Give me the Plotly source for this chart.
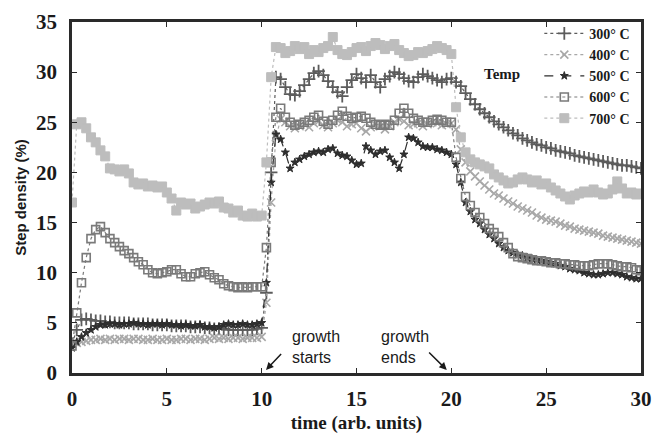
import numpy as np
import plotly.graph_objects as go

# time grid (arb. units), sampled every 0.25
TIME = np.linspace(0, 30, 121)

TEMPS = ["300° C", "400° C", "500° C", "600° C", "700° C"]

S300 = [2.9, 4.3, 5.3, 5.4, 5.3, 5.2, 5.2, 5.1, 5.1, 5.0, 5.0, 5.0,
        5.0, 4.9, 4.9, 4.9, 4.9, 4.8, 4.8, 4.8, 4.8, 4.7, 4.7, 4.7,
        4.7, 4.6, 4.6, 4.6, 4.5, 4.5, 4.4, 4.4, 4.4, 4.3, 4.3, 4.3,
        4.3, 4.3, 4.3, 4.4, 4.5, 8.0, 20.0, 29.5, 29.3, 28.5, 27.8, 27.7,
        28.1, 28.7, 29.3, 29.9, 30.1, 29.7, 29.1, 28.5, 28.0, 27.6, 28.5, 29.2,
        29.8, 29.4, 29.0, 29.7, 29.0, 28.5, 29.3, 29.6, 30.0, 29.8, 29.4, 29.1,
        29.0, 29.5, 29.8, 29.6, 29.4, 29.2, 29.0, 29.3, 29.4, 29.0, 28.6, 27.9,
        27.3, 26.8, 26.3, 25.9, 25.5, 25.1, 24.8, 24.5, 24.2, 23.9, 23.7, 23.4,
        23.2, 23.0, 22.8, 22.7, 22.5, 22.4, 22.2, 22.1, 22.0, 21.9, 21.7, 21.6,
        21.5, 21.4, 21.3, 21.2, 21.1, 21.0, 20.9, 20.8, 20.7, 20.7, 20.6, 20.5,
        20.4]

S400 = [2.9, 3.0, 3.1, 3.2, 3.3, 3.3, 3.4, 3.3, 3.4, 3.3, 3.4, 3.4,
        3.3, 3.4, 3.4, 3.3, 3.3, 3.4, 3.3, 3.3, 3.4, 3.3, 3.3, 3.4,
        3.4, 3.3, 3.4, 3.4, 3.3, 3.4, 3.5, 3.4, 3.5, 3.4, 3.5, 3.5,
        3.4, 3.5, 3.5, 3.5, 3.6, 7.0, 17.0, 23.5, 25.3, 25.0, 24.6, 24.4,
        24.6, 24.8, 24.5, 24.9, 25.1, 24.7, 24.5, 24.9, 25.2, 25.0, 24.6, 24.8,
        24.9, 24.4, 24.1, 24.5, 24.8, 24.6, 24.3, 24.6, 25.0, 25.3, 25.1, 24.7,
        24.8, 24.9, 24.6, 24.8, 25.0, 24.9, 24.7, 24.8, 24.9, 24.3, 22.3, 21.0,
        20.1, 19.6, 19.1, 18.7, 18.3, 17.9, 17.7, 17.4, 17.1, 16.9, 16.6, 16.4,
        16.2, 16.0, 15.7, 15.5, 15.3, 15.2, 15.1, 14.9, 14.7, 14.6, 14.4, 14.3,
        14.2, 14.1, 14.0, 13.9, 13.7, 13.6, 13.5, 13.4, 13.3, 13.2, 13.1, 13.0,
        12.9]

S500 = [2.5, 3.1, 3.6, 4.0, 4.3, 4.6, 4.8, 4.8, 4.9, 4.9, 4.8, 4.9,
        4.9, 5.0, 4.9, 4.9, 4.8, 4.9, 4.9, 4.8, 4.9, 4.8, 4.8, 4.7,
        4.8, 4.7, 4.7, 4.8, 4.6, 4.6, 4.5, 4.6, 4.8, 4.9, 4.8, 4.8,
        4.9, 4.8, 4.8, 4.9, 5.0, 9.0, 19.0, 23.8, 23.3, 22.0, 20.4, 21.0,
        21.3, 21.6, 21.8, 22.0, 22.1, 22.0, 22.3, 22.4, 21.9, 21.7, 21.6, 21.2,
        20.8, 20.9, 22.6, 22.2, 21.8, 22.1, 22.2, 21.5, 21.0, 20.4, 21.8, 23.5,
        23.4, 23.0, 22.6, 22.5, 22.5, 22.3, 22.2, 22.0, 21.8, 20.8, 19.0, 17.0,
        16.1, 15.3, 14.9, 14.3, 13.8, 13.4, 12.9, 12.5, 12.2, 12.0, 11.8, 11.7,
        11.5, 11.4, 11.3, 11.2, 11.1, 11.0, 10.9, 10.7, 10.6, 10.4, 10.3, 10.2,
        10.0, 9.9, 9.8, 9.8, 9.9, 10.0, 10.0, 9.9, 9.8, 9.6, 9.5, 9.4,
        9.4]

S600 = [2.7, 6.0, 9.0, 11.5, 13.4, 14.3, 14.6, 14.0, 13.4, 13.0, 12.6, 12.2,
        11.9, 11.5, 11.1, 10.8, 10.3, 10.0, 9.9, 10.0, 10.1, 10.3, 10.3, 9.9,
        9.6, 9.6, 9.9, 10.0, 10.1, 9.8, 9.5, 9.3, 8.9, 8.7, 8.6, 8.5,
        8.6, 8.5, 8.6, 8.6, 8.6, 12.5, 21.0, 25.5, 26.4, 25.5, 25.0, 24.7,
        24.8, 25.0, 25.2, 25.5, 25.7, 25.1, 24.8, 25.2, 25.7, 26.1, 25.6, 25.4,
        25.5, 25.6, 25.4, 25.0, 24.8, 24.7, 24.8, 24.7, 25.2, 25.9, 26.4, 25.9,
        25.4, 25.2, 25.0, 25.0, 25.2, 25.3, 25.2, 25.0, 25.0, 21.5, 19.4, 17.6,
        16.7, 16.0, 15.5, 14.9, 14.4, 14.0, 13.6, 13.0, 12.5, 11.9, 11.6, 11.5,
        11.4, 11.3, 11.2, 11.2, 11.1, 11.0, 11.0, 10.9, 10.9, 10.8, 10.8, 10.7,
        10.7, 10.7, 10.8, 10.9, 10.9, 10.9, 10.8, 10.7, 10.6, 10.6, 10.5, 10.3,
        10.2]

S700 = [17.0, 24.8, 25.0, 24.4, 23.5, 23.0, 22.2, 21.6, 20.4, 20.3, 20.1, 20.3,
        19.9, 19.0, 18.8, 18.9, 18.6, 18.7, 18.5, 18.6, 18.0, 17.4, 16.2, 17.0,
        16.8, 16.9, 16.4, 16.6, 16.8, 17.0, 16.9, 17.1, 16.5, 16.4, 16.0, 16.2,
        15.7, 15.6, 15.9, 15.6, 15.7, 21.0, 29.5, 32.5, 32.4, 31.9, 32.1, 32.6,
        32.3, 32.5, 31.8, 32.2, 32.0, 32.4, 32.6, 33.5, 32.2, 31.8, 31.7, 32.0,
        32.4, 32.5, 32.1, 32.6, 32.9, 32.7, 32.3, 32.6, 32.8, 32.2, 31.9, 31.6,
        31.7, 32.0, 31.9, 32.1, 32.3, 32.6, 32.4, 32.2, 31.8, 26.5, 23.5, 22.0,
        21.3, 21.0, 20.8, 20.6, 20.4, 19.8, 19.5, 19.2, 18.9, 19.0, 19.3, 19.5,
        19.3, 19.0, 19.2, 18.8, 18.9, 18.5, 18.2, 17.9, 17.6, 17.3, 17.7, 17.9,
        18.1, 18.0, 18.3, 18.0, 17.8, 17.9, 18.3, 19.1, 18.4, 17.9, 18.0, 17.8,
        17.9]

SERIES = [S300, S400, S500, S600, S700]
COLORS = ["#5c5c5c", "#a8a8a8", "#2e2e2e", "#7a7a7a", "#bdbdbd"]
SYMBOLS = ["cross-thin", "x-thin", "star", "square-open", "square"]
DASHES = ["dot", "dot", "dash", "dot", "dot"]
SIZES = [9, 8, 6, 8, 9]
MLW = [1.8, 1.6, 1.0, 1.6, 1.0]

SERIF = "Liberation Serif"
SANS = "Liberation Sans"

fig = go.Figure()
for name, vals, col, sym, dash, sz, lw in zip(TEMPS, SERIES, COLORS, SYMBOLS, DASHES, SIZES, MLW):
    fig.add_trace(go.Scatter(
        x=TIME, y=vals, name="<b>" + name + "</b>", mode="lines+markers",
        line=dict(color=col, width=1.2, dash=dash),
        marker=dict(symbol=sym, size=sz, color=col,
                    line=dict(color=col, width=lw)),
    ))

axis_common = dict(
    showline=True, linecolor="#2a2a2a", linewidth=2.5, mirror="ticks",
    ticks="inside", ticklen=5, tickcolor="#2a2a2a", tickwidth=1,
    showgrid=False, zeroline=False,
    tickfont=dict(family=SERIF, size=21, color="#1a1a1a", weight="bold"),
)

fig.update_layout(
    width=662, height=440,
    margin=dict(l=72, r=19, t=10, b=55),
    paper_bgcolor="white", plot_bgcolor="white",
    xaxis=dict(range=[0, 30], tickvals=[0, 5, 10, 15, 20, 25, 30],
               ticklabelstandoff=5,
               title=dict(text="<b>time (arb. units)</b>", standoff=6,
                          font=dict(family=SERIF, size=19, color="#1a1a1a")),
               **axis_common),
    yaxis=dict(range=[0, 35], tickvals=[0, 5, 10, 15, 20, 25, 30, 35],
               ticklabelstandoff=8,
               title=dict(text="<b>Step density (%)</b>", standoff=6,
                          font=dict(family=SANS, size=15, color="#1a1a1a")),
               **axis_common),
    showlegend=True,
    legend=dict(
        x=0.99, y=1.012, xanchor="right", yanchor="top",
        bgcolor="rgba(255,255,255,0)", borderwidth=0,
        font=dict(family=SERIF, size=14, color="#1a1a1a"),
        tracegroupgap=0, itemwidth=40,
    ),
)

# legend heading placed left of the legend entries
fig.add_annotation(x=0.79, y=0.851, xref="paper", yref="paper",
                   text="<b>Temp</b>", showarrow=False,
                   xanchor="right", yanchor="middle",
                   font=dict(family=SERIF, size=15, color="#1a1a1a"))

ann_font = dict(family=SANS, size=16, color="#1a1a1a")
fig.add_annotation(x=11.5, y=2.55, xref="x", yref="y", text="growth<br>starts",
                   showarrow=False, xanchor="left", yanchor="middle", align="left",
                   font=ann_font)
fig.add_annotation(x=16.2, y=2.55, xref="x", yref="y", text="growth<br>ends",
                   showarrow=False, xanchor="left", yanchor="middle", align="left",
                   font=ann_font)
fig.add_annotation(x=10.23, y=0.3, ax=11.1, ay=2.05, xref="x", yref="y",
                   axref="x", ayref="y", text="", showarrow=True,
                   arrowhead=2, arrowsize=1, arrowwidth=1.5, arrowcolor="#1a1a1a")
fig.add_annotation(x=19.76, y=0.3, ax=18.75, ay=2.2, xref="x", yref="y",
                   axref="x", ayref="y", text="", showarrow=True,
                   arrowhead=2, arrowsize=1, arrowwidth=1.5, arrowcolor="#1a1a1a")

fig.write_html("out.html")
